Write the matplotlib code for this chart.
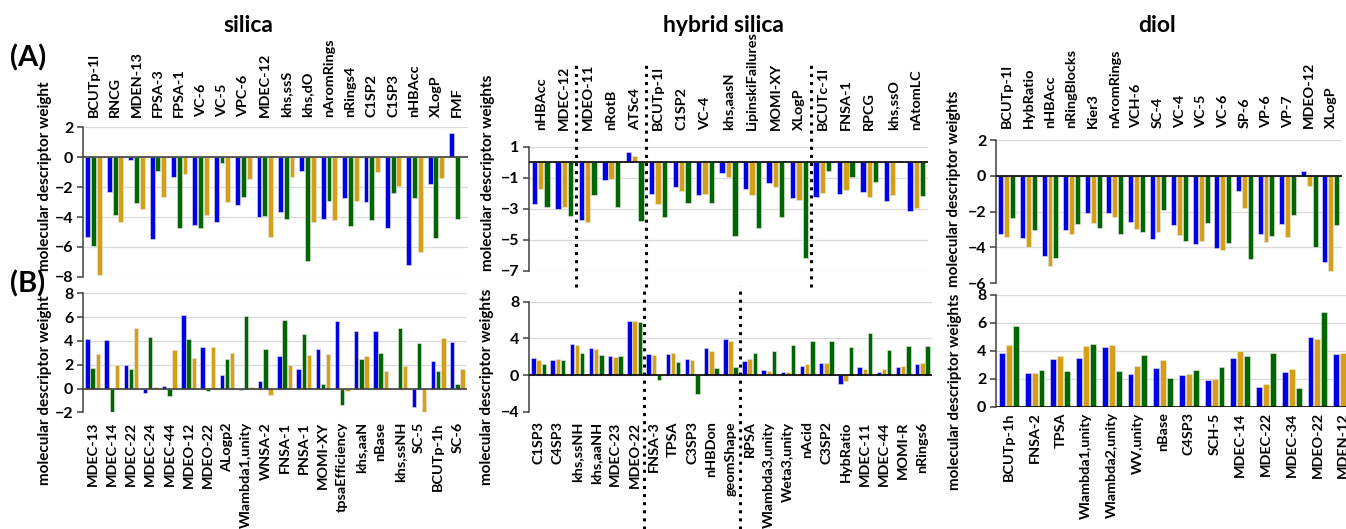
import matplotlib
matplotlib.use('Agg')
import matplotlib.pyplot as plt
import numpy as np

plt.rcParams['font.family'] = ['Lato', 'DejaVu Sans']
plt.rcParams['font.weight'] = 'bold'

W, H = 1346, 529
BLUE = '#0000E6'
GREEN = '#006600'
GOLD = '#D4A017'

# ---- silica (A) ----
silica_a_labels = ['BCUTp-1l', 'RNCG', 'MDEN-13', 'FPSA-3', 'FPSA-1', 'VC-6', 'VC-5', 'VPC-6',
                   'MDEC-12', 'khs,ssS', 'khs,dO', 'nAromRings', 'nRings4', 'C1SP2', 'C1SP3',
                   'nHBAcc', 'XLogP', 'FMF']
silica_a_blue = [-5.3, -2.3, -0.2, -5.45, -1.35, -4.55, -4.35, -3.2, -4.0, -3.65, -0.9, -4.1,
                 -2.75, -3.0, -4.75, -7.2, -1.8, 1.6]
silica_a_green = [-5.9, -3.85, -3.05, -0.9, -4.75, -4.75, -0.4, -2.65, -3.9, -4.1, -6.9, -2.9,
                  -4.6, -4.2, -2.4, -2.75, -5.4, -4.15]
silica_a_gold = [-7.85, -4.35, -3.45, -2.65, -1.1, -3.85, -3.0, -1.45, -5.35, -1.35, -4.35, -4.2,
                 -2.9, -1.0, -1.9, -6.3, -1.4, 0.0]

# ---- silica (B) ----
silica_b_labels = ['MDEC-13', 'MDEC-14', 'MDEC-22', 'MDEC-24', 'MDEC-44', 'MDEO-12', 'MDEO-22',
                   'ALogp2', 'Wlambda1,unity', 'WNSA-2', 'FNSA-1', 'PNSA-1', 'MOMI-XY',
                   'tpsaEfficiency', 'khs,aaN', 'nBase', 'khs,ssNH', 'SC-5', 'BCUTp-1h', 'SC-6']
silica_b_blue = [4.2, 4.06, 2.0, -0.4, 0.2, 6.2, 3.5, 1.1, -0.15, 0.6, 2.75, 1.62, 3.28, 5.69,
                 4.8, 4.8, 0.0, -1.54, 2.27, 3.9]
silica_b_green = [1.74, -2.2, 1.65, 4.3, -0.6, 4.15, -0.25, 2.52, 6.1, 3.28, 5.74, 4.54, 0.42,
                  -1.35, 2.46, 3.0, 5.1, 3.84, 1.43, 0.4]
silica_b_gold = [2.9, 2.0, 5.07, 0.1, 3.2, 2.6, 3.47, 3.0, 0.1, -0.55, 2.0, 2.83, 2.94, -0.17,
                 2.72, 1.51, 1.85, -2.1, 4.26, 1.68]

# ---- hybrid silica (A) ----
hybrid_a_labels = ['nHBAcc', 'MDEC-12', 'MDEO-11', 'nRotB', 'ATSc4', 'BCUTp-1l', 'C1SP2', 'VC-4',
                   'khs,aasN', 'LipinskiFailures', 'MOMI-XY', 'XLogP', 'BCUTc-1l', 'FNSA-1',
                   'RPCG', 'khs,ssO', 'nAtomLC']
hybrid_a_blue = [-2.7, -3.0, -3.7, -1.15, 0.67, -2.02, -1.62, -2.1, -0.68, -1.7, -1.36, -2.32,
                 -2.23, -2.04, -1.91, -2.47, -3.17]
hybrid_a_gold = [-1.75, -2.9, -3.87, -1.1, 0.38, -2.7, -1.83, -2.02, -0.94, -2.13, -1.6, -2.43,
                 -2.0, -1.79, -2.23, -2.09, -2.96]
hybrid_a_green = [-2.86, -3.45, -2.1, -2.85, -3.8, -3.53, -2.64, -2.6, -4.72, -4.23, -3.53, -6.15,
                  -0.55, -0.94, -1.3, 0.08, -2.17]

# ---- hybrid silica (B) ----
hybrid_b_labels = ['C1SP3', 'C4SP3', 'khs,ssNH', 'khs,aaNH', 'MDEC-23', 'MDEO-22', 'FNSA-3',
                   'TPSA', 'C3SP3', 'nHBDon', 'geomShape', 'RPSA', 'Wlambda3,unity',
                   'Weta3,unity', 'nAcid', 'C3SP2', 'HybRatio', 'MDEC-11', 'MDEC-44', 'MOMI-R',
                   'nRings6']
hybrid_b_blue = [1.82, 1.64, 3.35, 2.9, 2.1, 5.85, 2.29, 2.29, 1.71, 2.95, 3.9, 1.56, 0.55, 0.33,
                 1.02, 1.35, -0.97, 0.91, 0.36, 0.87, 1.16]
hybrid_b_gold = [1.64, 1.78, 3.24, 2.87, 2.0, 5.9, 2.18, 2.4, 1.6, 2.62, 3.67, 1.71, 0.47, 0.29,
                 1.24, 1.35, -0.6, 0.69, 0.62, 1.02, 1.31]
hybrid_b_green = [1.16, 1.64, 2.36, 2.15, 2.04, 5.82, -0.58, 1.42, -2.04, 0.73, 0.87, 2.36, 2.58,
                  3.31, 3.67, 3.75, 3.1, 4.55, 2.7, 3.13, 3.13]

# ---- diol (A) ----
diol_a_labels = ['BCUTp-1l', 'HybRatio', 'nHBAcc', 'nRingBlocks', 'Kier3', 'nAromRings', 'VCH-6',
                 'SC-4', 'VC-4', 'VC-5', 'VC-6', 'SP-6', 'VP-6', 'VP-7', 'MDEO-12', 'XLogP']
diol_a_blue = [-3.27, -3.49, -4.46, -3.02, -2.07, -2.06, -2.56, -3.51, -2.74, -3.82, -4.01, -0.87,
               -3.27, -2.71, 0.29, -4.81]
diol_a_gold = [-3.43, -3.95, -5.01, -3.27, -2.65, -2.28, -2.97, -3.15, -3.3, -3.62, -4.14, -1.81,
               -3.67, -3.43, -0.55, -5.29]
diol_a_green = [-2.37, -3.02, -4.6, -2.69, -2.93, -3.23, -3.13, -1.93, -3.62, -2.61, -3.73, -4.64,
                -3.34, -2.2, -3.95, -2.76]

# ---- diol (B) ----
diol_b_labels = ['BCUTp-1h', 'FNSA-2', 'TPSA', 'Wlambda1,unity', 'Wlambda2,unity', 'WV,unity',
                 'nBase', 'C4SP3', 'SCH-5', 'MDEC-14', 'MDEC-22', 'MDEC-34', 'MDEO-22', 'MDEN-12']
diol_b_blue = [3.82, 2.43, 3.39, 3.46, 4.25, 2.36, 2.77, 2.27, 1.89, 3.46, 1.38, 2.48, 4.96, 3.77]
diol_b_gold = [4.42, 2.41, 3.6, 4.34, 4.39, 2.94, 3.34, 2.31, 1.96, 3.99, 1.65, 2.67, 4.87, 3.84]
diol_b_green = [5.78, 2.65, 2.58, 4.46, 2.53, 3.72, 2.05, 2.63, 2.82, 3.63, 3.82, 1.36, 6.8, 3.03]


fig = plt.figure(figsize=(W / 100, H / 100), dpi=100)


def px_axes(left, top, right, bottom):
    return fig.add_axes([left / W, 1 - bottom / H, (right - left) / W, (bottom - top) / H])


def panel(rect, labels, series, ylim, yticks, top, pad, zero_color='black'):
    ax = px_axes(*rect)
    x = np.arange(len(labels))
    width, step = 0.23, 0.27
    for i, (vals, color) in enumerate(series):
        ax.bar(x + (i - 1) * step, vals, width, color=color, edgecolor='#e8e8e8',
               linewidth=0.4, zorder=3)
    ax.set_xlim(-0.5, len(labels) - 0.5)
    ax.set_ylim(*ylim)
    ax.set_yticks(yticks)
    ax.yaxis.grid(True, color='#D9D9D9', linewidth=0.9, zorder=0)
    ax.set_axisbelow(True)
    ax.axhline(0, color=zero_color, linewidth=1.2, zorder=4)
    for s in ['top', 'right', 'bottom']:
        ax.spines[s].set_visible(False)
    ax.spines['left'].set_color('#404040')
    ax.spines['left'].set_linewidth(1.1)
    ax.set_xticks(x)
    ax.set_xticklabels(labels, rotation=90, fontsize=10.4, fontweight='bold')
    if top:
        ax.xaxis.tick_top()
    ax.tick_params(axis='x', length=0, pad=pad)
    ax.tick_params(axis='y', length=4, width=1.1, color='#404040', labelsize=11.5, pad=3)
    return ax


# silica
panel((83, 127, 468, 277), silica_a_labels,
      [(silica_a_blue, BLUE), (silica_a_green, GREEN), (silica_a_gold, GOLD)],
      (-8, 2), np.arange(-8, 3, 2), True, 7, zero_color='#404040')
panel((83, 293.3, 467, 412.3), silica_b_labels,
      [(silica_b_blue, BLUE), (silica_b_green, GREEN), (silica_b_gold, GOLD)],
      (-2, 8), np.arange(-2, 9, 2), False, 7, zero_color='#404040')

# hybrid silica
ha = panel((529, 146.7, 928, 271), hybrid_a_labels,
           [(hybrid_a_blue, BLUE), (hybrid_a_gold, GOLD), (hybrid_a_green, GREEN)],
           (-7, 1), [-7, -5, -3, -1, 1], True, 12)
hb = panel((529, 301.7, 932, 411.7), hybrid_b_labels,
           [(hybrid_b_blue, BLUE), (hybrid_b_gold, GOLD), (hybrid_b_green, GREEN)],
           (-4, 8), [-4, 0, 4, 8], False, 7)

# separators between descriptor groups
for xs in [1.5, 4.5, 11.5]:
    ha.axvline(xs, ymin=-0.13, ymax=1.66, color='black', linestyle=':', linewidth=2.2,
               clip_on=False, zorder=5)
for xs in [5.5, 10.5]:
    hb.axvline(xs, ymin=-1.07, ymax=1.14, color='black', linestyle=':', linewidth=2.2,
               clip_on=False, zorder=5)

# diol
panel((996, 140, 1341.6, 283.3), diol_a_labels,
      [(diol_a_blue, BLUE), (diol_a_gold, GOLD), (diol_a_green, GREEN)],
      (-6, 2), np.arange(-6, 3, 2), True, 9)
panel((996, 295, 1356, 406.7), diol_b_labels,
      [(diol_b_blue, BLUE), (diol_b_gold, GOLD), (diol_b_green, GREEN)],
      (0, 8), np.arange(0, 9, 2), False, 4)

# titles, panel letters and axis labels
def ftext(x, y, s, **kw):
    fig.text(x / W, 1 - y / H, s, ha='center', va='center', fontweight='bold', **kw)


ftext(248, 26, 'silica', fontsize=16.5)
ftext(723, 26, 'hybrid silica', fontsize=16.5)
ftext(1157, 26, 'diol', fontsize=16.5)
ftext(28, 58, '(A)', fontsize=21)
ftext(28, 284, '(B)', fontsize=21)

ylab = 'molecular descriptor weight'
ftext(45, 176, ylab, fontsize=11, rotation=90)
ftext(45, 390, ylab, fontsize=11, rotation=90)
ftext(488, 173, ylab + 's', fontsize=11, rotation=90)
ftext(487, 387, ylab + 's', fontsize=11, rotation=90)
ftext(954, 189, ylab + 's', fontsize=11, rotation=90)
ftext(955, 392, ylab + 's', fontsize=11, rotation=90)

fig.savefig('out.png', dpi=100)
plt.close(fig)
